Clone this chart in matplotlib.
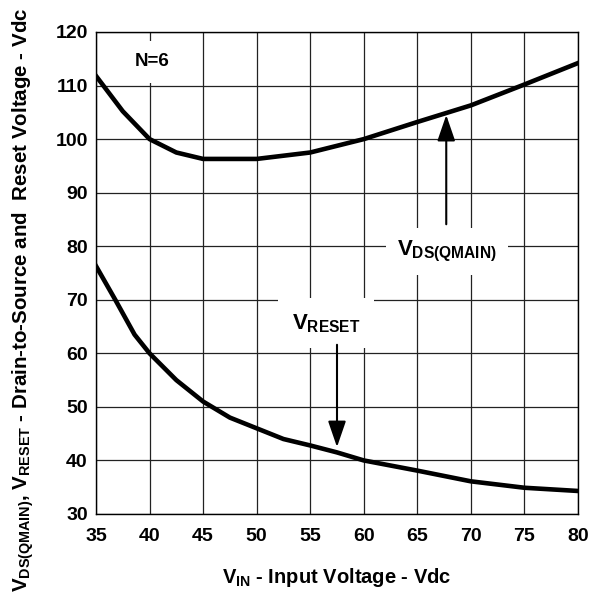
import numpy as np
import matplotlib
matplotlib.use("Agg")
import matplotlib.pyplot as plt

# curve data
vin_main = [35, 37.5, 40, 42.5, 45, 50, 55, 60, 65, 70, 75, 80]
vds_main = [111.8, 105.2, 100, 97.5, 96.3, 96.3, 97.5, 100, 103.2, 106.3, 110.2, 114.2]
vin_reset = [35, 36.8, 38.6, 40, 42.5, 45, 47.5, 50, 52.5, 55, 57.5, 60, 65, 70, 75, 80]
v_reset = [76.3, 70, 63.5, 60, 55, 51, 48, 46, 44, 42.8, 41.5, 40, 38.1, 36.1, 34.9, 34.3]
xticks = list(range(35, 81, 5))
yticks = list(range(30, 121, 10))

plt.rcParams.update({"font.family": "Liberation Sans", "font.weight": "bold",
                     "axes.labelweight": "bold",
                     "mathtext.fontset": "custom", "mathtext.rm": "Liberation Sans:bold",
                     "mathtext.it": "Liberation Sans:bold", "mathtext.bf": "Liberation Sans:bold"})

fig = plt.figure(figsize=(6.05, 6.01), dpi=100)
ax = fig.add_axes([96/605, 1-514/601, 482/605, 482/601])
ax.set_xlim(35, 80); ax.set_ylim(30, 120)
ax.set_xticks(xticks); ax.set_yticks(yticks)
ax.grid(True, color="#222222", lw=0.9, zorder=0)
ax.tick_params(length=0, labelsize=14)
ax.tick_params(axis="x", pad=10); ax.tick_params(axis="y", pad=6)
for s in ax.spines.values():
    s.set_linewidth(1.0); s.set_color("black")

ax.plot(vin_main, vds_main, color="black", lw=3.3, solid_joinstyle="round", zorder=3)
ax.plot(vin_reset, v_reset, color="black", lw=3.3, solid_joinstyle="round", zorder=3)

ax.text(40.2, 114.4, "N=6", ha="center", va="center", fontsize=13.5,
        bbox=dict(facecolor="white", edgecolor="none", pad=9), zorder=2)
ax.text(56.5, 65.6, r"$V_{RESET}$", ha="center", va="center", fontsize=16,
        bbox=dict(facecolor="white", edgecolor="none", pad=10), zorder=2)
ax.text(67.8, 79.0, r"$V_{DS(QMAIN)}$", ha="center", va="center", fontsize=16,
        bbox=dict(facecolor="white", edgecolor="none", pad=8), zorder=2)

arr = dict(arrowstyle="-|>,head_length=1.6,head_width=0.55", color="black", lw=1.5,
           shrinkA=0, shrinkB=0, mutation_scale=10)
ax.annotate("", xy=(57.5, 42.5), xytext=(57.5, 61.6), arrowprops=arr, zorder=4)
ax.annotate("", xy=(67.7, 104.5), xytext=(67.7, 84.1), arrowprops=arr, zorder=4)

ax.set_xlabel(r"$V_{IN}$ - Input Voltage - Vdc", fontsize=14.5, fontweight="bold")
ax.xaxis.set_label_coords(0.5, -0.108)
ax.set_ylabel(r"$V_{DS(QMAIN)}$, $V_{RESET}$ - Drain-to-Source and  Reset Voltage - Vdc",
              fontsize=14.8, fontweight="bold")
ax.yaxis.set_label_coords(-0.125, 0.445)

fig.savefig("out.png", dpi=100, facecolor="white")
